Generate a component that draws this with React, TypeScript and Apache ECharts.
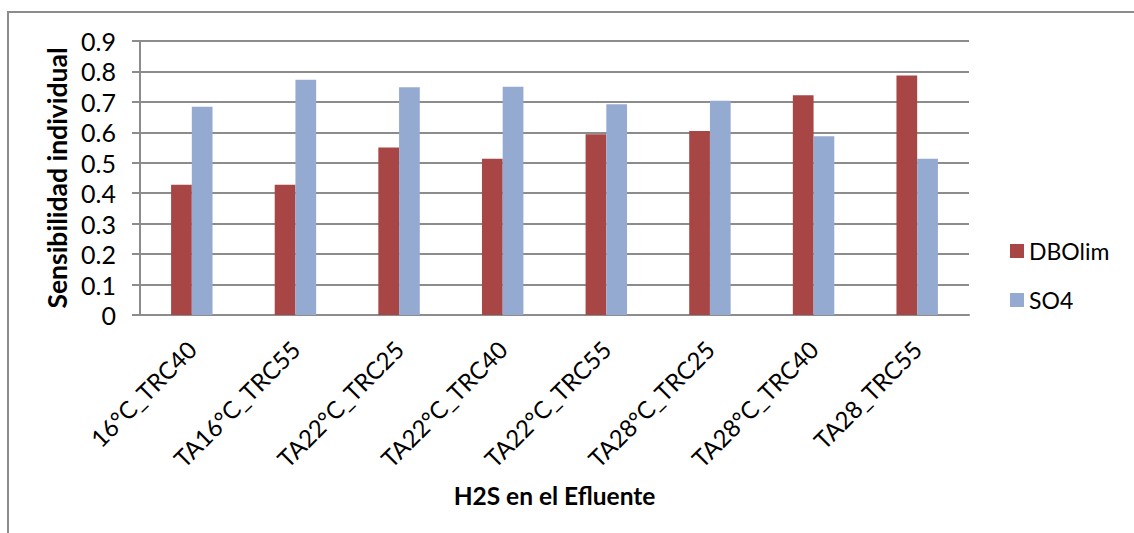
import React, { useEffect, useRef } from "react";
import * as echarts from "echarts";

// Categories (temperature / retention-time scenarios)
const categories = [
  "16°C_TRC40",
  "TA16°C_TRC55",
  "TA22°C_TRC25",
  "TA22°C_TRC40",
  "TA22°C_TRC55",
  "TA28°C_TRC25",
  "TA28°C_TRC40",
  "TA28_TRC55",
];

// Individual sensitivity of each parameter
const dboLim = [0.428, 0.428, 0.55, 0.513, 0.594, 0.604, 0.722, 0.787];
const so4 = [0.684, 0.773, 0.748, 0.75, 0.692, 0.704, 0.587, 0.513];

const yTicks = { min: 0, max: 0.9, interval: 0.1 };

const FONT = "Lato, 'Noto Sans', sans-serif";
const GRID_GRAY = "#8c8c8c";

export default function App() {
  const ref = useRef<HTMLDivElement>(null);

  useEffect(() => {
    if (!ref.current) return;
    const chart = echarts.init(ref.current, undefined, { renderer: "svg" });
    chart.setOption({
      animation: false,
      backgroundColor: "#ffffff",
      textStyle: { fontFamily: FONT, color: "#000" },
      grid: { left: 140, right: 165, top: 41, bottom: 218 },
      legend: {
        orient: "vertical",
        left: 1005,
        top: 233,
        itemWidth: 14,
        itemHeight: 14,
        itemGap: 23,
        icon: "rect",
        textStyle: { fontFamily: FONT, fontSize: 23, color: "#000", lineHeight: 26 },
        data: ["DBOlim", "SO4"],
      },
      xAxis: {
        type: "category",
        data: categories,
        name: "H2S en el Efluente",
        nameLocation: "middle",
        nameGap: 168,
        nameTextStyle: { fontFamily: FONT, fontSize: 24.5, fontWeight: "bold", color: "#000" },
        axisLine: { lineStyle: { color: GRID_GRAY, width: 2 } },
        axisTick: { show: false },
        axisLabel: {
          rotate: 45,
          margin: 30,
          fontFamily: FONT,
          fontSize: 24,
          color: "#000",
        },
      },
      yAxis: {
        type: "value",
        min: yTicks.min,
        max: yTicks.max,
        interval: yTicks.interval,
        name: "Sensibilidad individual",
        nameLocation: "middle",
        nameGap: 54,
        nameTextStyle: { fontFamily: FONT, fontSize: 26.5, fontWeight: "bold", color: "#000" },
        axisLine: { show: true, lineStyle: { color: GRID_GRAY, width: 2 } },
        axisTick: { show: true, length: 8, lineStyle: { color: GRID_GRAY, width: 2 } },
        axisLabel: {
          margin: 24,
          fontFamily: FONT,
          fontSize: 25,
          color: "#000",
          formatter: (v: number) => (v === 0 ? "0" : v.toFixed(1)),
        },
        splitLine: { show: true, lineStyle: { color: GRID_GRAY, width: 2 } },
      },
      series: [
        {
          name: "DBOlim",
          type: "bar",
          data: dboLim,
          barGap: "0%",
          barCategoryGap: "60%",
          itemStyle: { color: "#A84645" },
        },
        {
          name: "SO4",
          type: "bar",
          data: so4,
          barGap: "0%",
          barCategoryGap: "60%",
          itemStyle: { color: "#95AAD0" },
        },
      ],
      graphic: [
        {
          type: "rect",
          shape: { x: 8, y: 12, width: 1160, height: 560 },
          style: { fill: "none", stroke: GRID_GRAY, lineWidth: 2 },
          silent: true,
        },
      ],
    });
    return () => chart.dispose();
  }, []);

  return (
    <div
      ref={ref}
      style={{ position: "fixed", left: 0, top: 0, width: 1134, height: 533 }}
    />
  );
}
